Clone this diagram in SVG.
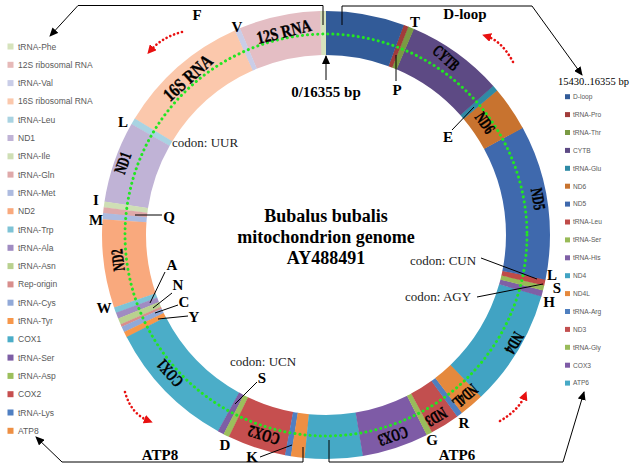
<svg xmlns="http://www.w3.org/2000/svg" width="633" height="471" viewBox="0 0 633 471">
<defs>
<style>
.seg{fill:none;stroke-width:44}
.lg{font-family:"Liberation Sans",Arial,sans-serif;font-size:8.5px;fill:#595959}
.rg{font-family:"Liberation Sans",Arial,sans-serif;font-size:6.6px;fill:#595959}
.lt{font-family:"Liberation Serif","Times New Roman",serif;font-weight:bold;font-size:15px;fill:#000}
.cd{font-family:"Liberation Serif","Times New Roman",serif;font-size:13px;fill:#222}
.gl{font-family:"Liberation Serif","Times New Roman",serif;font-weight:bold;font-size:14px;fill:#000;text-anchor:middle;stroke:#000;stroke-width:0.35}
.ttl{font-family:"Liberation Serif","Times New Roman",serif;font-weight:bold;font-size:18px;fill:#000;text-anchor:middle}
.ln{fill:none;stroke:#000;stroke-width:1}
.rd{fill:none;stroke:#e81010;stroke-width:2.6;stroke-dasharray:0.1 4;stroke-linecap:round}
</style>
<marker id="ah" markerUnits="userSpaceOnUse" markerWidth="9" markerHeight="8" refX="8" refY="4" orient="auto"><path d="M0,0 L9,4 L0,8 z" fill="#000"/></marker>
<marker id="rh" markerUnits="userSpaceOnUse" markerWidth="9" markerHeight="9" refX="5" refY="4.5" orient="auto"><path d="M0,0 L9,4.5 L0,9 z" fill="#e81010"/></marker>
</defs>
<rect width="633" height="471" fill="#fff"/>

<g id="ring" transform="translate(326,235) rotate(90) scale(-1,1)">
<circle id="s-phe" class="seg" r="202" pathLength="16355" stroke="#d6e3bc" stroke-dasharray="72 16355" stroke-dashoffset="0"/>
<circle id="s-12s" class="seg" r="202" pathLength="16355" stroke="#e4bec4" stroke-dasharray="961 16355" stroke-dashoffset="-68"/>
<circle id="s-val" class="seg" r="202" pathLength="16355" stroke="#c9cde8" stroke-dasharray="71 16355" stroke-dashoffset="-1025"/>
<circle id="s-16s" class="seg" r="202" pathLength="16355" stroke="#fbc8ac" stroke-dasharray="1575 16355" stroke-dashoffset="-1092"/>
<circle id="s-leu1" class="seg" r="202" pathLength="16355" stroke="#a9d3e2" stroke-dasharray="79 16355" stroke-dashoffset="-2663"/>
<circle id="s-nd1" class="seg" r="202" pathLength="16355" stroke="#c0b3d6" stroke-dasharray="962 16355" stroke-dashoffset="-2738"/>
<circle id="s-ile" class="seg" r="202" pathLength="16355" stroke="#cfdfb5" stroke-dasharray="72 16355" stroke-dashoffset="-3696"/>
<circle id="s-gln" class="seg" r="202" pathLength="16355" stroke="#dfa9aa" stroke-dasharray="73 16355" stroke-dashoffset="-3764"/>
<circle id="s-met" class="seg" r="202" pathLength="16355" stroke="#adbbe0" stroke-dasharray="75 16355" stroke-dashoffset="-3833"/>
<circle id="s-nd2" class="seg" r="202" pathLength="16355" stroke="#f9a97d" stroke-dasharray="1046 16355" stroke-dashoffset="-3904"/>
<circle id="s-trp" class="seg" r="202" pathLength="16355" stroke="#7ec3d6" stroke-dasharray="71 16355" stroke-dashoffset="-4946"/>
<circle id="s-ala" class="seg" r="202" pathLength="16355" stroke="#a08cc2" stroke-dasharray="73 16355" stroke-dashoffset="-5013"/>
<circle id="s-asn" class="seg" r="202" pathLength="16355" stroke="#b9d18f" stroke-dasharray="78 16355" stroke-dashoffset="-5082"/>
<circle id="s-ori" class="seg" r="202" pathLength="16355" stroke="#d88e8c" stroke-dasharray="35 16355" stroke-dashoffset="-5156"/>
<circle id="s-cys" class="seg" r="202" pathLength="16355" stroke="#91a9d8" stroke-dasharray="71 16355" stroke-dashoffset="-5187"/>
<circle id="s-tyr" class="seg" r="202" pathLength="16355" stroke="#f7974a" stroke-dasharray="71 16355" stroke-dashoffset="-5254"/>
<circle id="s-cox1" class="seg" r="202" pathLength="16355" stroke="#4badc8" stroke-dasharray="1548 16355" stroke-dashoffset="-5321"/>
<circle id="s-ser1" class="seg" r="202" pathLength="16355" stroke="#7d5ea5" stroke-dasharray="79 16355" stroke-dashoffset="-6865"/>
<circle id="s-asp" class="seg" r="202" pathLength="16355" stroke="#9cbf5c" stroke-dasharray="74 16355" stroke-dashoffset="-6940"/>
<circle id="s-cox2" class="seg" r="202" pathLength="16355" stroke="#c64f4f" stroke-dasharray="692 16355" stroke-dashoffset="-7010"/>
<circle id="s-lys" class="seg" r="202" pathLength="16355" stroke="#4f7fc2" stroke-dasharray="72 16355" stroke-dashoffset="-7698"/>
<circle id="s-atp8" class="seg" r="202" pathLength="16355" stroke="#ee8f43" stroke-dasharray="166 16355" stroke-dashoffset="-7766"/>
<circle id="s-atp6" class="seg" r="202" pathLength="16355" stroke="#46a9c6" stroke-dasharray="684 16355" stroke-dashoffset="-7928"/>
<circle id="s-cox3" class="seg" r="202" pathLength="16355" stroke="#7e5ba6" stroke-dasharray="787 16355" stroke-dashoffset="-8608"/>
<circle id="s-gly" class="seg" r="202" pathLength="16355" stroke="#99bb5a" stroke-dasharray="73 16355" stroke-dashoffset="-9391"/>
<circle id="s-nd3" class="seg" r="202" pathLength="16355" stroke="#c24f4f" stroke-dasharray="350 16355" stroke-dashoffset="-9460"/>
<circle id="s-arg" class="seg" r="202" pathLength="16355" stroke="#4f7fbf" stroke-dasharray="73 16355" stroke-dashoffset="-9806"/>
<circle id="s-nd4l" class="seg" r="202" pathLength="16355" stroke="#e5893d" stroke-dasharray="295 16355" stroke-dashoffset="-9875"/>
<circle id="s-nd4" class="seg" r="202" pathLength="16355" stroke="#41a3c3" stroke-dasharray="1381 16355" stroke-dashoffset="-10166"/>
<circle id="s-his" class="seg" r="202" pathLength="16355" stroke="#7f60a6" stroke-dasharray="74 16355" stroke-dashoffset="-11543"/>
<circle id="s-ser2" class="seg" r="202" pathLength="16355" stroke="#98ba57" stroke-dasharray="64 16355" stroke-dashoffset="-11613"/>
<circle id="s-leu2" class="seg" r="202" pathLength="16355" stroke="#bf4b48" stroke-dasharray="74 16355" stroke-dashoffset="-11673"/>
<circle id="s-nd5" class="seg" r="202" pathLength="16355" stroke="#3f69ad" stroke-dasharray="1825 16355" stroke-dashoffset="-11743"/>
<circle id="s-nd6" class="seg" r="202" pathLength="16355" stroke="#c8732f" stroke-dasharray="531 16355" stroke-dashoffset="-13564"/>
<circle id="s-glu" class="seg" r="202" pathLength="16355" stroke="#2f8aa5" stroke-dasharray="73 16355" stroke-dashoffset="-14091"/>
<circle id="s-cytb" class="seg" r="202" pathLength="16355" stroke="#5d4a84" stroke-dasharray="1148 16355" stroke-dashoffset="-14160"/>
<circle id="s-thr" class="seg" r="202" pathLength="16355" stroke="#7a9a43" stroke-dasharray="74 16355" stroke-dashoffset="-15304"/>
<circle id="s-pro" class="seg" r="202" pathLength="16355" stroke="#a13c3a" stroke-dasharray="60 16355" stroke-dashoffset="-15374"/>
<circle id="s-dloop" class="seg" r="202" pathLength="16355" stroke="#325b98" stroke-dasharray="925 16355" stroke-dashoffset="-15430"/>
</g>

<circle id="strand" cx="326" cy="235" r="201" fill="none" stroke="#22e622" stroke-width="3" stroke-dasharray="0.1 5" stroke-linecap="round"/>

<g id="ring-labels">
<text class="gl" style="font-size:16px" transform="translate(284,32) rotate(-14) scale(0.88,1.1)" y="5">12S RNA</text>
<text class="gl" style="font-size:17px" transform="translate(188,78) rotate(-42) scale(0.88,1.1)" y="5.5">16S RNA</text>
<text class="gl" transform="translate(123,163) rotate(-71) scale(0.8,1.2)" y="4.5">ND1</text>
<text class="gl" transform="translate(118,260) rotate(-97) scale(0.8,1.2)" y="4.5">ND2</text>
<text class="gl" transform="translate(170,373) rotate(-131.5) scale(0.8,1.2)" y="4.5">COX1</text>
<text class="gl" transform="translate(264,435) rotate(-163) scale(0.85,1.2)" y="4.5">COX2</text>
<text class="gl" transform="translate(393,436) rotate(161.6) scale(0.8,1.2)" y="4.5">COX3</text>
<text class="gl" transform="translate(436,417) rotate(149) scale(0.8,1.2)" y="4.5">ND3</text>
<text class="gl" transform="translate(465,396) rotate(139) scale(0.75,1.2)" y="4.5">ND4L</text>
<text class="gl" transform="translate(514,343) rotate(120) scale(0.8,1.2)" y="4.5">ND4</text>
<text class="gl" transform="translate(538,199) rotate(80) scale(0.8,1.2)" y="4.5">ND5</text>
<text class="gl" transform="translate(485,123) rotate(55) scale(0.8,1.2)" y="4.5">ND6</text>
<text class="gl" transform="translate(446,58) rotate(42) scale(0.75,1.2)" y="4.5">CYTB</text>
</g>

<g id="connectors">
<polyline class="ln" points="323,25 323,5.5 78,5.5 50,36" marker-end="url(#ah)"/>
<polyline class="ln" points="342,25 342,6 532,6 582,75" marker-end="url(#ah)"/>
<polyline class="ln" points="303,447 303,462 62,462 36,437" marker-end="url(#ah)"/>
<polyline class="ln" points="329,440 329,462 563,462 584,392" marker-end="url(#ah)"/>
<line class="ln" x1="326" y1="80" x2="326" y2="56" stroke-width="1.6" marker-end="url(#ah)"/>
<line class="ln" x1="396" y1="55" x2="396" y2="81"/>
<line class="ln" x1="452" y1="130" x2="474" y2="107"/>
<line class="ln" x1="135" y1="215" x2="162" y2="215"/>
<line class="ln" x1="150" y1="303" x2="165" y2="272"/>
<line class="ln" x1="153" y1="308" x2="172" y2="293"/>
<line class="ln" x1="155" y1="313" x2="178" y2="305"/>
<line class="ln" x1="158" y1="319" x2="188" y2="316"/>
<line class="ln" x1="481" y1="258" x2="537" y2="279"/>
<line class="ln" x1="477" y1="297" x2="543" y2="284"/>
<line class="ln" x1="257" y1="382" x2="235" y2="404"/>
<line class="ln" x1="260" y1="457" x2="292" y2="445"/>
<path class="rd" d="M182,32 Q162,37 150,51" marker-end="url(#rh)"/>
<path class="rd" d="M513,62 Q502,41 486,36" marker-end="url(#rh)"/>
<path class="rd" d="M125,392 Q131,414 149,421" marker-end="url(#rh)"/>
<path class="rd" d="M500,421 Q519,410 525,395" marker-end="url(#rh)"/>
</g>

<g id="title">
<text class="ttl" x="326" y="222">Bubalus bubalis</text>
<text class="ttl" x="326" y="243">mitochondrion genome</text>
<text class="ttl" x="326" y="264">AY488491</text>
</g>

<g id="labels">
<text class="lt" x="326" y="97" text-anchor="middle">0/16355 bp</text>
<text class="lt" x="465" y="19" text-anchor="middle">D-loop</text>
<text class="lt" x="160" y="460" font-size="14" text-anchor="middle">ATP8</text>
<text class="lt" x="457" y="460" font-size="14" text-anchor="middle">ATP6</text>
<text class="lt" x="197" y="20" text-anchor="middle">F</text>
<text class="lt" x="237" y="32" text-anchor="middle">V</text>
<text class="lt" x="123" y="127" text-anchor="middle">L</text>
<text class="lt" x="96" y="205" text-anchor="middle">I</text>
<text class="lt" x="96" y="225" text-anchor="middle">M</text>
<text class="lt" x="104" y="313" text-anchor="middle">W</text>
<text class="lt" x="169" y="222" text-anchor="middle">Q</text>
<text class="lt" x="172" y="270" text-anchor="middle" font-weight="normal">A</text>
<text class="lt" x="178" y="290" text-anchor="middle" font-weight="normal">N</text>
<text class="lt" x="184" y="307" text-anchor="middle" font-weight="normal">C</text>
<text class="lt" x="194" y="322" text-anchor="middle" font-weight="normal">Y</text>
<text class="lt" x="415" y="27" text-anchor="middle">T</text>
<text class="lt" x="397" y="95" text-anchor="middle">P</text>
<text class="lt" x="448" y="142" text-anchor="middle">E</text>
<text class="lt" x="552" y="280" text-anchor="middle">L</text>
<text class="lt" x="557" y="293" text-anchor="middle">S</text>
<text class="lt" x="549" y="307" text-anchor="middle">H</text>
<text class="lt" x="262" y="383" text-anchor="middle">S</text>
<text class="lt" x="225" y="450" text-anchor="middle">D</text>
<text class="lt" x="252" y="462" text-anchor="middle">K</text>
<text class="lt" x="432" y="445" text-anchor="middle">G</text>
<text class="lt" x="464" y="428" text-anchor="middle">R</text>
<text class="cd" x="172" y="147">codon: UUR</text>
<text class="cd" x="410" y="265">codon: CUN</text>
<text class="cd" x="405" y="301">codon: AGY</text>
<text class="cd" x="230" y="366">codon: UCN</text>
</g>

<g id="legend-left">
<rect x="7.5" y="43.5" width="6" height="6" fill="#d6e3bc"/><text class="lg" x="18" y="49.5">tRNA-Phe</text>
<rect x="7.5" y="61.8" width="6" height="6" fill="#e6b9b8"/><text class="lg" x="18" y="67.8">12S ribosomal RNA</text>
<rect x="7.5" y="80.1" width="6" height="6" fill="#c9cde8"/><text class="lg" x="18" y="86.1">tRNA-Val</text>
<rect x="7.5" y="98.4" width="6" height="6" fill="#fbc8ac"/><text class="lg" x="18" y="104.4">16S ribosomal RNA</text>
<rect x="7.5" y="116.7" width="6" height="6" fill="#a9d3e2"/><text class="lg" x="18" y="122.7">tRNA-Leu</text>
<rect x="7.5" y="135" width="6" height="6" fill="#c0b3d6"/><text class="lg" x="18" y="141">ND1</text>
<rect x="7.5" y="153.3" width="6" height="6" fill="#cfdfb5"/><text class="lg" x="18" y="159.3">tRNA-Ile</text>
<rect x="7.5" y="171.6" width="6" height="6" fill="#dfa9aa"/><text class="lg" x="18" y="177.6">tRNA-Gln</text>
<rect x="7.5" y="189.9" width="6" height="6" fill="#adbbe0"/><text class="lg" x="18" y="195.9">tRNA-Met</text>
<rect x="7.5" y="208.2" width="6" height="6" fill="#f9a97d"/><text class="lg" x="18" y="214.2">ND2</text>
<rect x="7.5" y="226.5" width="6" height="6" fill="#7ec3d6"/><text class="lg" x="18" y="232.5">tRNA-Trp</text>
<rect x="7.5" y="244.8" width="6" height="6" fill="#a08cc2"/><text class="lg" x="18" y="250.8">tRNA-Ala</text>
<rect x="7.5" y="263.1" width="6" height="6" fill="#b9d18f"/><text class="lg" x="18" y="269.1">tRNA-Asn</text>
<rect x="7.5" y="281.4" width="6" height="6" fill="#d88e8c"/><text class="lg" x="18" y="287.4">Rep-origin</text>
<rect x="7.5" y="299.7" width="6" height="6" fill="#91a9d8"/><text class="lg" x="18" y="305.7">tRNA-Cys</text>
<rect x="7.5" y="318" width="6" height="6" fill="#f7974a"/><text class="lg" x="18" y="324">tRNA-Tyr</text>
<rect x="7.5" y="336.3" width="6" height="6" fill="#4badc8"/><text class="lg" x="18" y="342.3">COX1</text>
<rect x="7.5" y="354.6" width="6" height="6" fill="#7d5ea5"/><text class="lg" x="18" y="360.6">tRNA-Ser</text>
<rect x="7.5" y="372.9" width="6" height="6" fill="#9cbf5c"/><text class="lg" x="18" y="378.9">tRNA-Asp</text>
<rect x="7.5" y="391.2" width="6" height="6" fill="#c64f4f"/><text class="lg" x="18" y="397.2">COX2</text>
<rect x="7.5" y="409.5" width="6" height="6" fill="#4f7fc2"/><text class="lg" x="18" y="415.5">tRNA-Lys</text>
<rect x="7.5" y="427.8" width="6" height="6" fill="#ee8f43"/><text class="lg" x="18" y="433.8">ATP8</text>
</g>

<g id="legend-right">
<text x="558" y="85" style="font-family:'Liberation Serif','Times New Roman',serif;font-size:10.5px;fill:#000">15430..16355 bp</text>
<rect x="565" y="94.2" width="5" height="5" fill="#325b98"/><text class="rg" x="573" y="99">D-loop</text>
<rect x="565" y="112.1" width="5" height="5" fill="#a13c3a"/><text class="rg" x="573" y="116.9">tRNA-Pro</text>
<rect x="565" y="130" width="5" height="5" fill="#7a9a43"/><text class="rg" x="573" y="134.8">tRNA-Thr</text>
<rect x="565" y="147.9" width="5" height="5" fill="#5d4a84"/><text class="rg" x="573" y="152.7">CYTB</text>
<rect x="565" y="165.8" width="5" height="5" fill="#2f8aa5"/><text class="rg" x="573" y="170.6">tRNA-Glu</text>
<rect x="565" y="183.7" width="5" height="5" fill="#c8732f"/><text class="rg" x="573" y="188.5">ND6</text>
<rect x="565" y="201.6" width="5" height="5" fill="#3f69ad"/><text class="rg" x="573" y="206.4">ND5</text>
<rect x="565" y="219.5" width="5" height="5" fill="#bf4b48"/><text class="rg" x="573" y="224.3">tRNA-Leu</text>
<rect x="565" y="237.4" width="5" height="5" fill="#98ba57"/><text class="rg" x="573" y="242.2">tRNA-Ser</text>
<rect x="565" y="255.3" width="5" height="5" fill="#7f60a6"/><text class="rg" x="573" y="260.1">tRNA-His</text>
<rect x="565" y="273.2" width="5" height="5" fill="#41a3c3"/><text class="rg" x="573" y="278">ND4</text>
<rect x="565" y="291.1" width="5" height="5" fill="#e5893d"/><text class="rg" x="573" y="295.9">ND4L</text>
<rect x="565" y="309" width="5" height="5" fill="#4f7fbf"/><text class="rg" x="573" y="313.8">tRNA-Arg</text>
<rect x="565" y="326.9" width="5" height="5" fill="#c24f4f"/><text class="rg" x="573" y="331.7">ND3</text>
<rect x="565" y="344.8" width="5" height="5" fill="#99bb5a"/><text class="rg" x="573" y="349.6">tRNA-Gly</text>
<rect x="565" y="362.7" width="5" height="5" fill="#7e5ba6"/><text class="rg" x="573" y="367.5">COX3</text>
<rect x="565" y="380.6" width="5" height="5" fill="#46a9c6"/><text class="rg" x="573" y="385.4">ATP6</text>
</g>
</svg>
